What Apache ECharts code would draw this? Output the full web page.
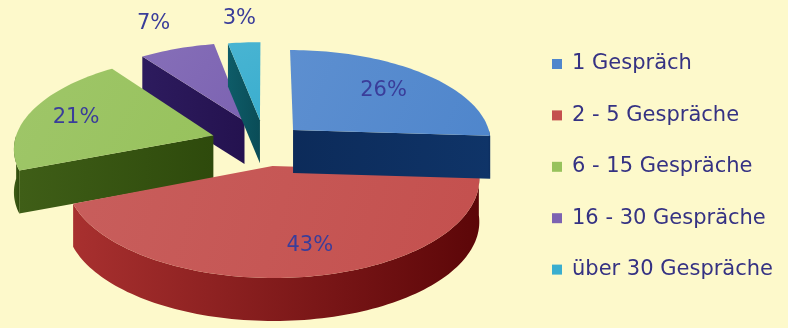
<!DOCTYPE html>
<html>
<head>
<meta charset="utf-8">
<script src="https://cdn.jsdelivr.net/npm/echarts@6/dist/echarts.min.js"></script>
<style>
html,body{margin:0;padding:0;background:#fdf9cb;}
#chart{width:788px;height:328px;}
</style>
</head>
<body>
<div id="chart"></div>
<script>
// ---- data ----
const categories = ['1 Gespräch', '2 - 5 Gespräche', '6 - 15 Gespräche', '16 - 30 Gespräche', 'über 30 Gespräche'];
const values = [26, 43, 21, 7, 3];
const percentLabels = ['26%', '43%', '21%', '7%', '3%'];

// ---- style ----
const topColors = ['#4f86cc', '#c4504e', '#97c25c', '#7c63b2', '#3aaecf'];
const sideColors = [['#0c2b5a', '#0f3468'], ['#a8302f', '#5c0608'], ['#3f5e17', '#2e4a0c'], ['#2d1b5e', '#24124f'], ['#0e5c68', '#0a4c57']];
const explode = [0.2, 0.25, 0.27, 0.26, 0.25];
const labelRadius = [0.68, 0.75, 0.75, 1.4, 1.35];
const labelShift = [[0, 0], [10, 0], [0, 0], [0, 0], [0, 0]];
const drawZ = [6, 5, 4, 2, 3];

const CX = 264.5, CY = 142.5, RX = 199, RY = 92.4, K = 0.12, H = 43;
const RAD = Math.PI / 180;
const total = values.reduce((a, b) => a + b, 0);

function proj(u, v, z) {
  const s = 1 / (1 + K * v);
  return [CX + RX * u * s, CY - RY * v * s + z * H];
}

function makeRender(i) {
  return function (params, api) {
    const val = api.value(0);
    let before = 0;
    for (let j = 0; j < i; j++) before += values[j];
    const a1 = 90 - before / total * 360;
    const a2 = a1 - val / total * 360;
    const mid = (a1 + a2) / 2 * RAD;
    const f = explode[i];
    const ou = f * Math.cos(mid), ov = f * Math.sin(mid);
    const pt = (ang, r, z) => proj(ou + r * Math.cos(ang * RAD), ov + r * Math.sin(ang * RAD), z);
    const arc = (from, to, z) => {
      const pts = [];
      const n = Math.max(2, Math.ceil(Math.abs(to - from) / 1.5));
      for (let k = 0; k <= n; k++) pts.push(pt(from + (to - from) * k / n, 1, z));
      return pts;
    };
    const sideFill = {
      type: 'linear', x: 0, y: 0, x2: 1, y2: 0,
      colorStops: [{ offset: 0, color: sideColors[i][0] }, { offset: 1, color: sideColors[i][1] }]
    };
    const children = [];
    // radial faces
    if (Math.cos(a1 * RAD) < -1e-6) {
      children.push({ type: 'polygon', shape: { points: [pt(a1, 0, 0), pt(a1, 1, 0), pt(a1, 1, 1), pt(a1, 0, 1)] }, style: { fill: sideFill } });
    }
    if (Math.cos(a2 * RAD) > 1e-6) {
      children.push({ type: 'polygon', shape: { points: [pt(a2, 0, 0), pt(a2, 1, 0), pt(a2, 1, 1), pt(a2, 0, 1)] }, style: { fill: sideFill } });
    }
    // outer front face
    for (let kk = -1; kk <= 1; kk++) {
      const lo = Math.max(a2, -180 + 360 * kk), hi = Math.min(a1, 360 * kk);
      if (hi - lo > 0.01) {
        const topArc = arc(hi, lo, 0);
        const botArc = arc(lo, hi, 1);
        children.push({ type: 'polygon', shape: { points: topArc.concat(botArc) }, style: { fill: sideFill } });
      }
    }
    // top face
    const topPts = [pt(a1, 0, 0)].concat(arc(a1, a2, 0));
    children.push({
      type: 'polygon', shape: { points: topPts },
      style: {
        fill: {
          type: 'linear', x: 0, y: 0, x2: 1, y2: 1,
          colorStops: [{ offset: 0, color: echarts.color.lift(topColors[i], 0.08) }, { offset: 1, color: topColors[i] }]
        }
      }
    });
    // label
    const lp = pt((a1 + a2) / 2, labelRadius[i], 0);
    children.push({
      type: 'text', z2: 10,
      style: { text: percentLabels[i], x: lp[0] + labelShift[i][0], y: lp[1] + labelShift[i][1], fill: '#3a3d9a', font: '21px "DejaVu Sans"', align: 'center', verticalAlign: 'middle' }
    });
    return { type: 'group', children: children };
  };
}

const series = categories.map((name, i) => ({
  type: 'custom',
  name: name,
  coordinateSystem: 'none',
  z: drawZ[i],
  itemStyle: { color: topColors[i] },
  data: [[values[i]]],
  renderItem: makeRender(i),
  silent: true,
  animation: false
}));

const chart = echarts.init(document.getElementById('chart'), null, { renderer: 'canvas' });
chart.setOption({
  backgroundColor: '#fdf9cb',
  animation: false,
  legend: {
    orient: 'vertical',
    left: 547,
    top: 48,
    itemWidth: 10,
    itemHeight: 10,
    itemGap: 29.4,
    icon: 'rect',
    data: categories,
    textStyle: { color: '#353283', fontSize: 21, fontFamily: 'DejaVu Sans', lineHeight: 22, padding: [0, 0, 0, 5] }
  },
  series: series
});
</script>
</body>
</html>
